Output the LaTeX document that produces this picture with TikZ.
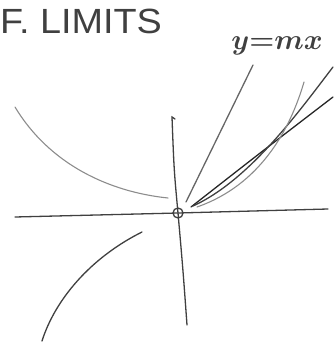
\documentclass[tikz,border=0pt]{standalone}
\usepackage{fontspec}
\setsansfont{Liberation Sans}
\usetikzlibrary{positioning}

\begin{document}
\begin{tikzpicture}[x=1pt, y=-1pt,
                pencil/.style={draw=black!75, line width=1.3pt, line cap=round},
                faint/.style={draw=black!45, line width=1.1pt, line cap=round},
                scrawl/.style={text=black!75, inner sep=0pt}
            ]
                \useasboundingbox (0,0) rectangle (333,343);

                \node[scrawl, anchor=west, xscale=1.08, font=\sffamily\fontsize{35}{35}\selectfont] (title) at (0,21) {F. LIMITS};
                \node[scrawl, scale=1.15, font=\boldmath\fontsize{32}{32}\selectfont] (slope) at (277,46) {$y{=}mx$};

                \coordinate (origin) at (178,213);

                % axes
                \draw[pencil] (15,217) -- (origin) -- (328,209);
                \draw[pencil] (175,119) -- (172,117) .. controls (174,170) .. (origin) .. controls (183,270) .. (187,325);
                \draw[pencil] (origin) circle (5pt);

                % curves on the left
                \draw[faint] (15,107) .. controls (50,165) and (110,192) .. (168,198);
                \draw[pencil] (142,232) .. controls (90,258) and (55,300) .. (42,341);

                % lines and curves through the origin
                \draw[pencil, draw=black!60] (186,202) -- (253,65);
                \draw[pencil, draw=black!85] (191,207) .. controls (260,153) .. (333,97);
                \draw[pencil] (193,206) .. controls (250,180) and (300,110) .. (333,67);
                \draw[faint] (197,207) .. controls (260,185) and (290,130) .. (304,82);

            \end{tikzpicture}
\end{document}
